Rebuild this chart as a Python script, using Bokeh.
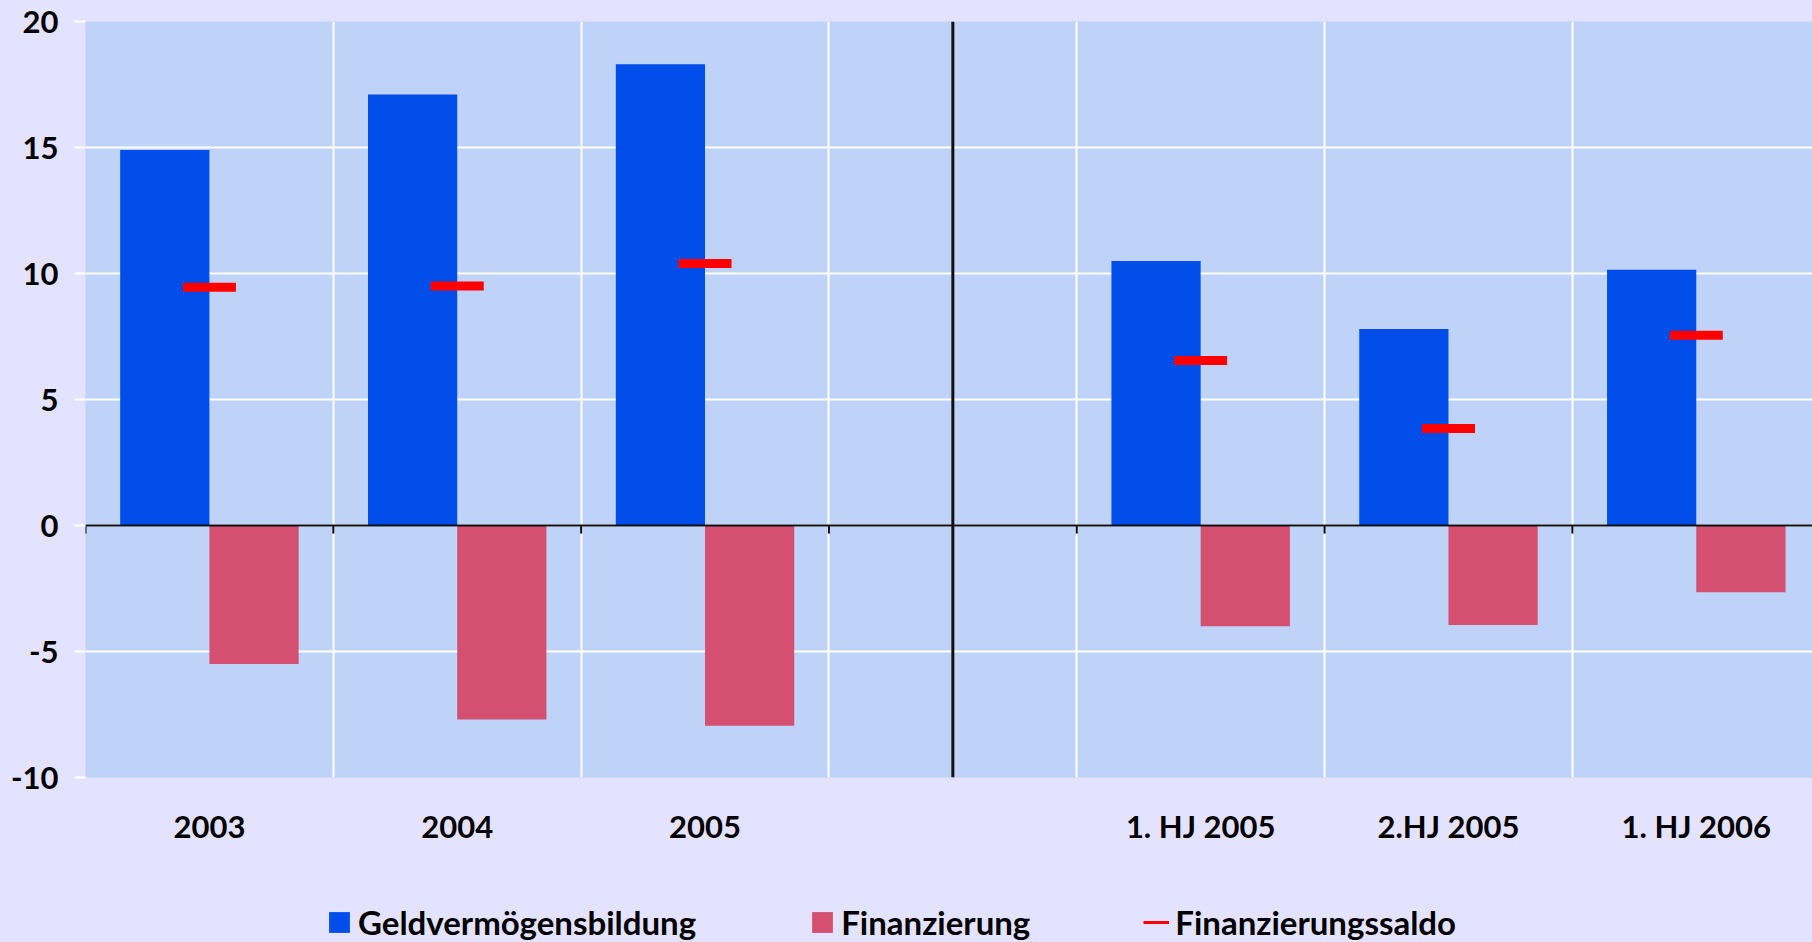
from bokeh.plotting import figure
from bokeh.layouts import column
from bokeh.models import (Range1d, FixedTicker, LinearAxis, Span, Legend, LegendItem,
                          ColumnDataSource, Grid)
from bokeh.transform import dodge
from bokeh.embed import file_html
from bokeh.resources import INLINE

# ---- data ----
categories = ["2003", "2004", "2005", "", "1. HJ 2005", "2.HJ 2005", "1. HJ 2006"]
periods = ["2003", "2004", "2005", "1. HJ 2005", "2.HJ 2005", "1. HJ 2006"]
geldvermoegensbildung = [14.9, 17.1, 18.3, 10.5, 7.8, 10.15]
finanzierung = [-5.5, -7.7, -7.95, -4.0, -3.95, -2.65]
finanzierungssaldo = [9.45, 9.5, 10.4, 6.55, 3.85, 7.55]
series_names = ["Geldvermögensbildung", "Finanzierung", "Finanzierungssaldo"]
y_ticks = [-10, -5, 0, 5, 10, 15, 20]
separator_after = "2005"

FONT = "Lato"
FS = "31px"
BG = "#E3E3FF"
PLOT_BG = "#BFD2F8"
BLUE = "#004DE9"
PINK = "#D44F70"
RED = "#FF0000"
DARK = "#111111"

xpos = [categories.index(c) for c in periods]
src = ColumnDataSource(dict(x=xpos, geld=geldvermoegensbildung,
                            fin=finanzierung, saldo=finanzierungssaldo))

n = len(categories)
p = figure(width=1812, height=870, output_backend="svg", toolbar_location=None,
           x_range=Range1d(-0.5, n - 0.5 - 0.031), y_range=Range1d(-10, 20),
           x_axis_type=None,
           min_border_left=85, min_border_top=21, min_border_right=0,
           min_border_bottom=93,
           background_fill_color=PLOT_BG, border_fill_color=BG,
           outline_line_color=None)

# y axis
p.yaxis.ticker = FixedTicker(ticks=y_ticks)
p.yaxis.major_label_overrides = {t: str(t) for t in y_ticks}
p.yaxis.axis_line_color = None
p.yaxis.major_tick_line_color = "white"
p.yaxis.major_tick_line_width = 2
p.yaxis.major_tick_out = 11
p.yaxis.major_tick_in = 0
p.yaxis.minor_tick_line_color = None
p.yaxis.major_label_standoff = 16
p.yaxis.major_label_text_font = FONT
p.yaxis.major_label_text_font_style = "bold"
p.yaxis.major_label_text_font_size = FS
p.yaxis.major_label_text_color = "black"

p.ygrid.ticker = FixedTicker(ticks=y_ticks)
p.ygrid.grid_line_color = "white"
p.ygrid.grid_line_width = 2

boundaries = [i - 0.5 for i in range(n + 1)]
p.add_layout(Grid(dimension=0, ticker=FixedTicker(ticks=boundaries),
                  grid_line_color="white", grid_line_width=2))

# category label axis
label_ticks = [i for i, c in enumerate(categories) if c]
xa = LinearAxis(ticker=FixedTicker(ticks=label_ticks),
                major_label_overrides={i: categories[i] for i in label_ticks},
                axis_line_color=None, major_tick_line_color=None,
                minor_tick_line_color=None, major_label_standoff=23,
                major_label_text_font=FONT, major_label_text_font_style="bold",
                major_label_text_font_size=FS, major_label_text_color="black")
p.add_layout(xa, "below")

# bars
p.vbar(x=dodge("x", -0.18, range=p.x_range), top="geld", bottom=0, width=0.36,
       source=src, fill_color=BLUE, line_color=None)
p.vbar(x=dodge("x", 0.18, range=p.x_range), top="fin", bottom=0, width=0.36,
       source=src, fill_color=PINK, line_color=None)
p.rect(x="x", y="saldo", width=0.214, height=9, height_units="screen",
       source=src, fill_color=RED, line_color=None)

# zero line with small ticks at category boundaries
p.add_layout(Span(location=0, dimension="width", line_color=DARK, line_width=2))
tick_x = boundaries[:-1]
p.segment(x0=tick_x, y0=[0] * len(tick_x), x1=tick_x, y1=[-0.32] * len(tick_x),
          line_color=DARK, line_width=2)

# separator between annual and half-year values
sep_x = categories.index(separator_after) + 1
p.add_layout(Span(location=sep_x, dimension="height", line_color=DARK, line_width=3))

# ---- legend strip (legend-only renderers kept outside the visible range) ----
lp = figure(width=1812, height=72, output_backend="svg", toolbar_location=None,
            x_range=Range1d(0, 1), y_range=Range1d(0, 1),
            x_axis_type=None, y_axis_type=None,
            min_border_left=0, min_border_right=0, min_border_top=0, min_border_bottom=0,
            background_fill_color=BG, border_fill_color=BG, outline_line_color=None)
lp.xgrid.visible = False
lp.ygrid.visible = False
r_blue = lp.vbar(x=[5], top=[5], bottom=[4], width=0.1, fill_color=BLUE, line_color=None)
r_pink = lp.vbar(x=[5], top=[5], bottom=[4], width=0.1, fill_color=PINK, line_color=None)
r_red = lp.line(x=[5, 6], y=[5, 5], line_color=RED, line_width=3)

legend = Legend(items=[LegendItem(label=series_names[0], renderers=[r_blue]),
                       LegendItem(label=series_names[1], renderers=[r_pink]),
                       LegendItem(label=series_names[2], renderers=[r_red])],
                orientation="horizontal", location=(241, 0),
                padding=0, margin=0, spacing=113, label_standoff=6,
                glyph_width=26, glyph_height=26,
                background_fill_alpha=0, border_line_color=None,
                label_text_font=FONT, label_text_font_style="bold",
                label_text_font_size="33px", label_text_color="black")
lp.add_layout(legend, "center")

layout = column(p, lp, spacing=0)

html = file_html(layout, INLINE)
html = html.replace("</head>",
                    "<style>html,body{margin:0;padding:0;background:%s;overflow:hidden}</style></head>" % BG, 1)
open("out.html", "w").write(html)
